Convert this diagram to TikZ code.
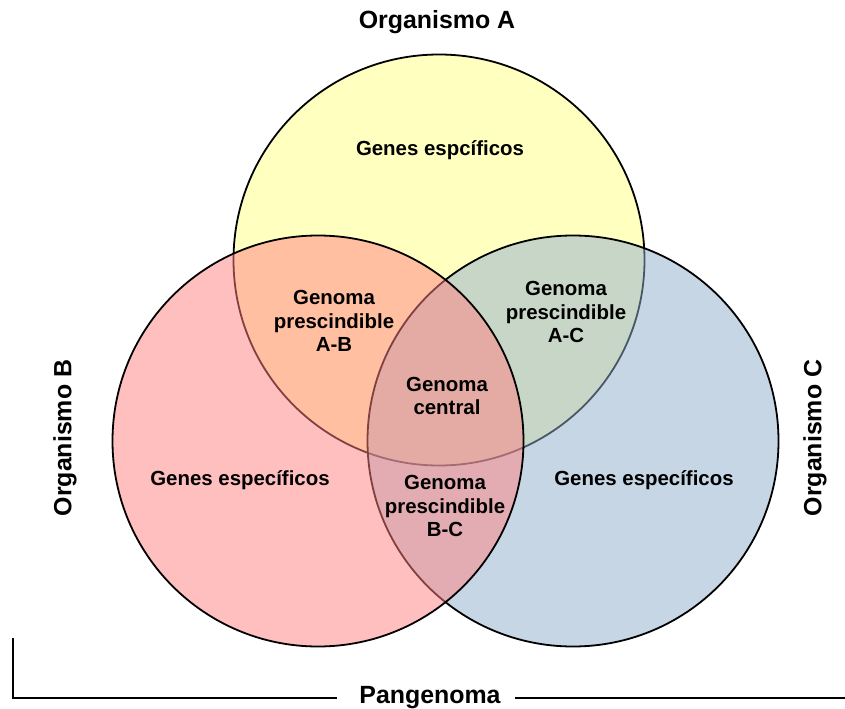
\documentclass[tikz,border=0pt]{standalone}
\usepackage{fontspec}
\setmainfont{Liberation Sans}
\begin{document}
\begin{tikzpicture}[x=1bp,y=-1bp,
  venn/.style={circle, draw=black, line width=1.8bp, minimum size=411bp, inner sep=0pt, fill opacity=0.5, draw opacity=1},
  title/.style={font=\fontsize{25}{30}\selectfont\bfseries, text=black, inner sep=0pt},
  region/.style={font=\fontsize{20.5}{23.5}\selectfont\bfseries, text=black, align=center, inner sep=0pt},
  bracket/.style={line width=2.4bp, black}]
  \definecolor{yellowA}{RGB}{255,255,192}
  \definecolor{blueC}{RGB}{145,175,205}
  \definecolor{redB}{RGB}{255,129,129}
  \useasboundingbox (0,0) rectangle (845,709);
  \fill[white] (0,0) rectangle (845,709);

  % the three organisms, drawn bottom to top
  \node[venn, fill=yellowA, fill opacity=1] (A) at (439,260) {};
  \node[venn, fill=blueC] (C) at (573,441) {};
  \node[venn, fill=redB] (B) at (318,441) {};

  % organism names
  \node[title] (tA) at (437,22) {Organismo A};
  \node[title, rotate=90] (tB) at (65,438) {Organismo B};
  \node[title, rotate=90] (tC) at (815,438) {Organismo C};

  % region labels
  \node[region] (sA) at (440,150) {Genes espcíficos};
  \node[region] (sB) at (240,480) {Genes específicos};
  \node[region] (sC) at (644,480) {Genes específicos};
  \node[region] (AB) at (334,321) {Genoma\\prescindible\\A-B};
  \node[region] (AC) at (566,312) {Genoma\\prescindible\\A-C};
  \node[region] (BC) at (445,506) {Genoma\\prescindible\\B-C};
  \node[region] (core) at (447,396) {Genoma\\central};

  % pangenome bracket
  \node[title, anchor=base] (pan) at (430,703) {Pangenoma};
  \coordinate (top) at (13,638);
  \coordinate (corner) at (13,698);
  \coordinate (rend) at (845,698);
  \draw[bracket, line join=miter] (top) -- (corner) -- ([xshift=-22bp]corner -| pan.west);
  \draw[bracket] ([xshift=14bp]corner -| pan.east) -- (rend);
\end{tikzpicture}
\end{document}
